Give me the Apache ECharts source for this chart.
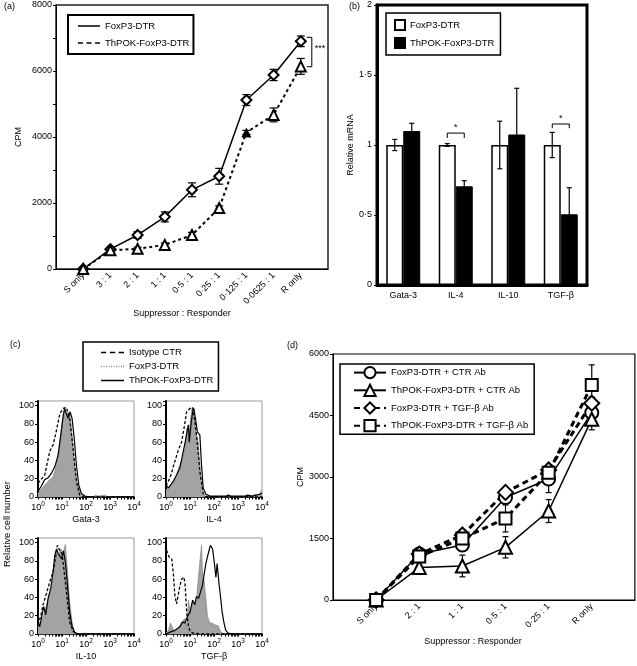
<!DOCTYPE html>
<html><head><meta charset="utf-8">
<script src="https://cdn.jsdelivr.net/npm/echarts@6/dist/echarts.min.js"></script>
<style>html,body{margin:0;padding:0;background:#fff}#c{width:637px;height:666px}</style>
</head><body><div id="c"></div>
<script>
// ---------------- panel (a) ----------------
const aCategories = ['S only','3 : 1','2 : 1','1 : 1','0·5 : 1','0·25 : 1','0·125 : 1','0·0625 : 1','R only'];
const aFoxP3    = [0, 600, 1030, 1580, 2400, 2810, 5120, 5880, 6900];
const aFoxP3Err = [60, 60, 100, 150, 210, 240, 165, 170, 160];
const aThPOK    = [0, 565, 610, 730, 1030, 1850, 4140, 4670, 6140];
const aThPOKErr = [40, 50, 50, 60, 80, 60, 60, 210, 240];
const aSigBracket = [8, 6130, 7020];
const aSigText = '***';
// ---------------- panel (b) ----------------
const bCategories = ['Gata-3','IL-4','IL-10','TGF-β'];
const bFoxP3    = [1, 1, 1, 1];
const bFoxP3Err = [0.04, 0.01, 0.17, 0.09];
const bThPOK    = [1.1, 0.705, 1.075, 0.505];
const bThPOKErr = [0.055, 0.04, 0.33, 0.19];
const bSigBrackets = [[1, 1.05, 1.085], [3, 1.12, 1.15]];
const bSigText = '*';
// ---------------- panel (c) histograms: [log10 intensity, % of max] ----------------
const gata3Isotype = [[0,15],[0.28,24],[0.49,50],[0.63,57],[0.77,73],[0.91,91],[1.05,97],[1.18,98],[1.32,86],[1.46,53],[1.6,17],[1.74,2],[1.88,0],[4,0]];
const gata3FoxP3 = [[0,4],[0.28,13],[0.49,19],[0.63,22],[0.77,35],[0.91,60],[1.0,79],[1.09,95],[1.18,91],[1.25,89],[1.32,93],[1.42,68],[1.53,35],[1.64,13],[1.81,3],[1.95,0],[2.3,0],[2.4,2],[2.5,1],[2.8,2],[2.9,0],[4,0]];
const gata3ThPOK = [[0,6],[0.14,12],[0.28,19],[0.42,21],[0.56,26],[0.7,33],[0.84,46],[0.95,68],[1.05,89],[1.11,97],[1.18,91],[1.25,86],[1.34,93],[1.42,86],[1.51,64],[1.6,35],[1.7,13],[1.81,4],[1.95,1],[2.2,0],[4,0]];
const il4Isotype = [[0,12],[0.17,21],[0.37,39],[0.51,51],[0.65,60],[0.75,75],[0.86,93],[1.0,97],[1.11,98],[1.2,84],[1.3,60],[1.41,28],[1.55,4],[1.69,0],[4,0]];
const il4FoxP3 = [[0,8],[0.17,12],[0.3,15],[0.44,24],[0.58,35],[0.69,42],[0.79,53],[0.86,75],[0.93,60],[1.0,79],[1.08,97],[1.16,88],[1.25,71],[1.34,60],[1.44,24],[1.52,6],[1.62,0],[3.5,0],[3.7,3],[3.85,2],[4,8]];
const il4ThPOK = [[0,13],[0.1,10],[0.19,13],[0.3,17],[0.44,24],[0.58,32],[0.72,50],[0.83,64],[0.93,79],[0.97,60],[1.04,79],[1.11,93],[1.16,97],[1.25,82],[1.31,71],[1.41,68],[1.48,35],[1.55,10],[1.66,3],[1.83,1],[2.5,1],[2.6,2],[2.7,1],[3.3,1],[3.4,2],[3.6,1],[3.9,3],[4,4]];
const il10Isotype = [[0,10],[0.11,19],[0.21,32],[0.35,44],[0.49,57],[0.63,68],[0.72,82],[0.81,97],[0.91,91],[1.0,88],[1.11,64],[1.23,35],[1.32,13],[1.46,3],[1.6,0],[4,0]];
const il10FoxP3 = [[0,8],[0.14,13],[0.28,24],[0.42,37],[0.56,50],[0.67,68],[0.77,89],[0.86,86],[0.95,93],[1.05,88],[1.14,98],[1.23,68],[1.32,35],[1.42,13],[1.51,3],[1.6,0],[2.0,1],[2.1,0],[4,0]];
const il10ThPOK = [[0,13],[0.07,8],[0.14,17],[0.24,30],[0.32,21],[0.42,39],[0.53,50],[0.63,68],[0.7,86],[0.77,93],[0.84,88],[0.91,89],[0.98,82],[1.06,91],[1.14,79],[1.23,53],[1.32,24],[1.42,8],[1.53,2],[1.67,0],[4,0]];
const tgfbIsotype = [[0,97],[0.06,88],[0.14,84],[0.24,82],[0.3,68],[0.37,42],[0.44,33],[0.51,35],[0.58,53],[0.65,60],[0.75,62],[0.8,53],[0.86,24],[0.93,10],[1.0,3],[1.13,1],[1.55,0],[4,0]];
const tgfbFoxP3 = [[0,1],[0.1,4],[0.19,12],[0.28,6],[0.37,3],[0.51,6],[0.65,13],[0.79,17],[0.86,8],[0.94,37],[1.02,21],[1.11,35],[1.2,32],[1.27,35],[1.34,60],[1.41,79],[1.48,97],[1.52,68],[1.58,60],[1.65,42],[1.73,19],[1.83,12],[1.92,12],[2.03,10],[2.17,9],[2.27,3],[2.38,0],[4,0]];
const tgfbThPOK = [[0,0],[0.17,2],[0.37,4],[0.58,8],[0.69,13],[0.79,12],[0.89,19],[1.0,24],[1.11,37],[1.2,32],[1.27,41],[1.36,39],[1.44,46],[1.52,53],[1.58,64],[1.66,77],[1.76,88],[1.85,97],[1.94,93],[2.01,79],[2.08,62],[2.13,77],[2.2,57],[2.27,41],[2.34,24],[2.41,13],[2.49,4],[2.59,1],[2.8,0],[4,0]];
const cPanels = [
  {name:'Gata-3', iso:gata3Isotype, fox:gata3FoxP3, th:gata3ThPOK},
  {name:'IL-4',   iso:il4Isotype,   fox:il4FoxP3,   th:il4ThPOK},
  {name:'IL-10',  iso:il10Isotype,  fox:il10FoxP3,  th:il10ThPOK},
  {name:'TGF-β',  iso:tgfbIsotype,  fox:tgfbFoxP3,  th:tgfbThPOK}
];
// ---------------- panel (d) ----------------
const dCategories = ['S only','2 : 1','1 : 1','0·5 : 1','0·25 : 1','R only'];
const dFoxCtr    = [0, 1120, 1340, 2500, 2950, 4570];
const dFoxCtrErr = [50, 60, 60, 100, 330, 150];
const dThCtr     = [0, 790, 830, 1285, 2170, 4410];
const dThCtrErr  = [50, 60, 265, 260, 280, 260];
const dFoxTgf    = [0, 1120, 1585, 2625, 3170, 4800];
const dFoxTgfErr = [50, 60, 60, 80, 100, 150];
const dThTgf     = [0, 1060, 1500, 1990, 3105, 5245];
const dThTgfErr  = [50, 60, 60, 330, 100, 490];

// ---------------- helpers ----------------
const FONT = 'Liberation Sans, Arial, sans-serif';
const txt = {color:'#000', fontSize:9, fontFamily:FONT};
const solidIcon = 'path://M0,0h22v2h-22z';
const dashIcon = 'path://M0,0h5v2h-5zM8.5,0h5v2h-5zM17,0h5v2h-5z';
const dotIcon = 'path://M0,0h1v1h-1zM2.5,0h1v1h-1zM5,0h1v1h-1zM7.5,0h1v1h-1zM10,0h1v1h-1zM12.5,0h1v1h-1zM15,0h1v1h-1zM17.5,0h1v1h-1zM20,0h1v1h-1zM22,0h1v1h-1z';
const stripName = n => n.split('|')[0];

function errSeries(xi, yi, ys, es, offset, cap, z){
  return {
    type:'custom', coordinateSystem:'cartesian2d', xAxisIndex:xi, yAxisIndex:yi, silent:true, z:z||3,
    data: ys.map((v,i)=>[i, v, es[i]]), encode:{x:0, y:1},
    renderItem:(p, api)=>{
      const x=api.value(0), y=api.value(1), e=api.value(2);
      const t=api.coord([x,y+e]), b=api.coord([x,y-e]);
      const cx=t[0]+offset, st={stroke:'#000', lineWidth:1.2};
      return {type:'group', children:[
        {type:'line', shape:{x1:cx,y1:t[1],x2:cx,y2:b[1]}, style:st},
        {type:'line', shape:{x1:cx-cap,y1:t[1],x2:cx+cap,y2:t[1]}, style:st},
        {type:'line', shape:{x1:cx-cap,y1:b[1],x2:cx+cap,y2:b[1]}, style:st}
      ]};
    }
  };
}
function catLabel(cats){ return v => { const r=Math.round(v); return (Math.abs(v-r)<1e-6 && r>=0 && r<cats.length) ? cats[r] : ''; }; }

const cLeft = [38,166,38,166], cTop = [401,401,538,538];
const cMinorTicks = [];
for (let d=0; d<4; d++) for (let k=1; k<10; k++) cMinorTicks.push(d+Math.log10(k));
cMinorTicks.push(4);

const grids = [
  {left:56, top:5, width:272, height:264, show:true, borderColor:'#222', borderWidth:1.5},
  {left:377, top:5, width:210, height:280, show:true, borderColor:'#000', borderWidth:3}
];
cLeft.forEach((l,i)=>grids.push({left:l, top:cTop[i], width:96, height:96, show:true, borderColor:'#999', borderWidth:1}));
grids.push({left:333, top:354, width:302, height:246, show:true, borderColor:'#000', borderWidth:1.2});

const xAxes = [
  {type:'value', gridIndex:0, min:-1, max:aCategories.length, interval:1, splitLine:{show:false},
   axisTick:{show:false}, axisLine:{onZero:false, lineStyle:{color:'#000', width:1}},
   axisLabel:Object.assign({rotate:45, margin:5, formatter:catLabel(aCategories)}, txt),
   name:'Suppressor : Responder', nameLocation:'middle', nameGap:40, nameTextStyle:Object.assign({padding:[0,20,0,0]}, txt)},
  {type:'category', gridIndex:1, data:bCategories, axisTick:{show:false},
   axisLine:{onZero:false, lineStyle:{color:'#000', width:3}}, axisLabel:Object.assign({margin:6}, txt)}
];
const yAxes = [
  {type:'value', gridIndex:0, min:0, max:8000, interval:1000, splitLine:{show:false},
   axisLine:{show:true, onZero:false, lineStyle:{color:'#000', width:1}}, axisTick:{show:true, length:3, lineStyle:{color:'#000'}},
   axisLabel:Object.assign({margin:4, formatter:v=> v%2000===0 ? String(v) : ''}, txt),
   name:'CPM', nameLocation:'middle', nameGap:33, nameTextStyle:txt},
  {type:'value', gridIndex:1, min:0, max:2, interval:0.5, splitLine:{show:false},
   axisLine:{show:true, onZero:false, lineStyle:{color:'#000', width:3}}, axisTick:{show:true, length:3, lineStyle:{color:'#000'}},
   axisLabel:Object.assign({margin:5, formatter:v=>String(v).replace('.','·')}, txt),
   name:'Relative mRNA', nameLocation:'middle', nameGap:20, nameTextStyle:txt}
];
cPanels.forEach((p,i)=>{
  xAxes.push({type:'value', gridIndex:2+i, min:0, max:4, interval:1, splitLine:{show:false},
    axisLine:{onZero:false, lineStyle:{color:'#000', width:1.5}},
    axisTick:{show:true, length:2.5, customValues:cMinorTicks, lineStyle:{color:'#000'}},
    axisLabel:{margin:4, formatter:v=>'{b|10}{s|'+v+'}',
      rich:{b:{fontSize:9, color:'#000', fontFamily:FONT, lineHeight:11, verticalAlign:'bottom'},
            s:{fontSize:6.5, color:'#000', fontFamily:FONT, lineHeight:11, verticalAlign:'top'}}},
    name:p.name, nameLocation:'middle', nameGap:18, nameTextStyle:txt});
  yAxes.push({type:'value', gridIndex:2+i, min:0, max:105, interval:20, splitLine:{show:false},
    axisLine:{show:true, onZero:false, lineStyle:{color:'#000', width:2}},
    axisTick:{show:true, length:3, lineStyle:{color:'#000'}},
    axisLabel:Object.assign({margin:4, formatter:v=> v%20===0 ? String(v) : ''}, txt)});
});
xAxes.push({type:'value', gridIndex:6, min:-1, max:dCategories.length, interval:1, splitLine:{show:false},
  axisTick:{show:false}, axisLine:{onZero:false, lineStyle:{color:'#000', width:1}},
  axisLabel:Object.assign({rotate:45, margin:5, formatter:catLabel(dCategories)}, txt),
  name:'Suppressor : Responder', nameLocation:'middle', nameGap:37, nameTextStyle:Object.assign({padding:[0,22,0,0]}, txt)});
yAxes.push({type:'value', gridIndex:6, min:0, max:6000, interval:1500, splitLine:{show:false},
  axisLine:{show:true, onZero:false, lineStyle:{color:'#000', width:1}}, axisTick:{show:true, length:3, lineStyle:{color:'#000'}},
  axisLabel:Object.assign({margin:4, formatter:v=>String(v)}, txt),
  name:'CPM', nameLocation:'middle', nameGap:25, nameTextStyle:txt});

const series = [];
// (a)
series.push(errSeries(0,0,aFoxP3,aFoxP3Err,0,4,2));
series.push(errSeries(0,0,aThPOK,aThPOKErr,0,4,2));
series.push({type:'line', name:'FoxP3-DTR|a', xAxisIndex:0, yAxisIndex:0, z:4,
  data:aFoxP3.map((v,i)=>[i,v]), symbol:'emptyDiamond', symbolSize:10, color:'#000',
  itemStyle:{borderWidth:1.5}, lineStyle:{color:'#000', width:1.5}});
series.push({type:'line', name:'ThPOK-FoxP3-DTR|a', xAxisIndex:0, yAxisIndex:0, z:4,
  data:aThPOK.map((v,i)=> i===6 ? {value:[i,v], symbol:'triangle'} : [i,v]), symbol:'emptyTriangle', symbolSize:10, color:'#000',
  itemStyle:{borderWidth:1.5}, lineStyle:{color:'#000', width:2, type:[3,3]}});
series.push({type:'custom', coordinateSystem:'cartesian2d', xAxisIndex:0, yAxisIndex:0, silent:true, z:5,
  data:[aSigBracket], encode:{x:0, y:1},
  renderItem:(p, api)=>{
    const lo=api.coord([api.value(0), api.value(1)]), hi=api.coord([api.value(0), api.value(2)]);
    const x=lo[0]+11;
    return {type:'group', children:[
      {type:'polyline', shape:{points:[[x-5,hi[1]],[x,hi[1]],[x,lo[1]],[x-5,lo[1]]]}, style:{stroke:'#000', fill:null, lineWidth:1}},
      {type:'text', style:{text:aSigText, x:x+3, y:(lo[1]+hi[1])/2-4, verticalAlign:'middle', fontSize:9, fill:'#000', fontFamily:FONT}}
    ]};
  }});
// (b)
series.push({type:'bar', name:'FoxP3-DTR|b', xAxisIndex:1, yAxisIndex:1, data:bFoxP3, barWidth:17, barGap:'0%',
  itemStyle:{color:'#fff', borderColor:'#000', borderWidth:1.5}});
series.push({type:'bar', name:'ThPOK-FoxP3-DTR|b', xAxisIndex:1, yAxisIndex:1, data:bThPOK, barWidth:17, barGap:'0%',
  itemStyle:{color:'#000', borderColor:'#000', borderWidth:1}});
series.push(errSeries(1,1,bFoxP3,bFoxP3Err,-8.5,2.5,3));
series.push(errSeries(1,1,bThPOK,bThPOKErr,8.5,2.5,3));
series.push({type:'custom', coordinateSystem:'cartesian2d', xAxisIndex:1, yAxisIndex:1, silent:true, z:5,
  data:bSigBrackets, encode:{x:0, y:1},
  renderItem:(p, api)=>{
    const c=api.value(0), lo=api.coord([c, api.value(1)]), hi=api.coord([c, api.value(2)]);
    const x1=hi[0]-8.5, x2=hi[0]+8.5;
    return {type:'group', children:[
      {type:'polyline', shape:{points:[[x1,lo[1]],[x1,hi[1]],[x2,hi[1]],[x2,lo[1]]]}, style:{stroke:'#000', fill:null, lineWidth:1}},
      {type:'text', style:{text:bSigText, x:hi[0], y:hi[1]-1, align:'center', verticalAlign:'bottom', fontSize:9, fill:'#000', fontFamily:FONT}}
    ]};
  }});
// (c)
cPanels.forEach((p,i)=>{
  const g = 2+i;
  series.push({type:'line', name:'FoxP3-DTR|c', xAxisIndex:g, yAxisIndex:g, data:p.fox, showSymbol:false, symbol:'none',
    color:'#8f8f8f', lineStyle:{color:'#7a7a7a', width:0.6}, areaStyle:{color:'#a3a3a3', opacity:1}, z:2});
  series.push({type:'line', name:'Isotype CTR|c', xAxisIndex:g, yAxisIndex:g, data:p.iso, showSymbol:false, symbol:'none',
    color:'#000', lineStyle:{color:'#000', width:1.3, type:[3,2]}, z:3});
  series.push({type:'line', name:'ThPOK-FoxP3-DTR|c', xAxisIndex:g, yAxisIndex:g, data:p.th, showSymbol:false, symbol:'none',
    color:'#000', lineStyle:{color:'#000', width:1.2}, z:4});
});
// (d)
series.push(errSeries(6,6,dFoxCtr,dFoxCtrErr,0,3,2));
series.push(errSeries(6,6,dThCtr,dThCtrErr,0,3,2));
series.push(errSeries(6,6,dFoxTgf,dFoxTgfErr,0,3,2));
series.push(errSeries(6,6,dThTgf,dThTgfErr,0,3,2));
const dLine = (name, data, sym, size, dashed) => ({type:'line', name:name, xAxisIndex:6, yAxisIndex:6, z:4,
  data:data.map((v,i)=>[i,v]), symbol:sym, symbolSize:size, color:'#000', itemStyle:{borderWidth:1.3},
  lineStyle:{color:'#000', width:dashed?3:1.5, type:dashed?[6,4]:'solid'}});
series.push(dLine('FoxP3-DTR + CTR Ab|d', dFoxCtr, 'emptyCircle', 13, false));
series.push(dLine('ThPOK-FoxP3-DTR + CTR Ab|d', dThCtr, 'emptyTriangle', 13, false));
series.push(dLine('FoxP3-DTR + TGF-β Ab|d', dFoxTgf, 'emptyDiamond', 15, true));
series.push(dLine('ThPOK-FoxP3-DTR + TGF-β Ab|d', dThTgf, 'emptyRect', 12, true));

const legBase = {orient:'vertical', formatter:stripName, backgroundColor:'#fff', borderColor:'#000', borderWidth:1.5,
  textStyle:{color:'#000', fontSize:9.5, fontFamily:FONT}, symbolKeepAspect:false, itemGap:6, selectedMode:false};
const legends = [
  Object.assign({}, legBase, {left:68, top:15, padding:[6,4,6,10], itemWidth:22, itemHeight:1.5, itemGap:7, borderWidth:2,
    data:[{name:'FoxP3-DTR|a', icon:solidIcon}, {name:'ThPOK-FoxP3-DTR|a', icon:dashIcon}]}),
  Object.assign({}, legBase, {left:386, top:13, padding:[6,6,6,8], itemWidth:10, itemHeight:10, itemGap:6,
    data:[{name:'FoxP3-DTR|b', icon:'rect'}, {name:'ThPOK-FoxP3-DTR|b', icon:'rect'}]}),
  Object.assign({}, legBase, {left:83, top:342, padding:[5,5,5,18], itemWidth:23, itemHeight:1.5, itemGap:3,
    textStyle:{color:'#000', fontSize:9.5, fontFamily:FONT, lineHeight:11},
    data:[{name:'Isotype CTR|c', icon:dashIcon}, {name:'FoxP3-DTR|c', icon:dotIcon}, {name:'ThPOK-FoxP3-DTR|c', icon:solidIcon}]}),
  Object.assign({}, legBase, {left:340, top:364, padding:[2,6,2,13], itemWidth:32, itemHeight:14, itemGap:4.5,
    data:['FoxP3-DTR + CTR Ab|d','ThPOK-FoxP3-DTR + CTR Ab|d','FoxP3-DTR + TGF-β Ab|d','ThPOK-FoxP3-DTR + TGF-β Ab|d']})
];

const gText = (t, x, y, extra) => Object.assign({type:'text', left:x, top:y, style:{text:t, fill:'#000', fontSize:9, fontFamily:FONT}}, extra||{});
const graphics = [
  gText('(a)', 4, 2), gText('(b)', 349, 2), gText('(c)', 10, 340), gText('(d)', 287, 341),
  {type:'text', x:7, y:524, rotation:Math.PI/2, style:{text:'Relative cell number', fill:'#000', fontSize:9.5, fontFamily:FONT, align:'center', verticalAlign:'middle'}}
];

const chart = echarts.init(document.getElementById('c'), null, {renderer:'canvas'});
chart.setOption({
  animation:false, backgroundColor:'#fff', textStyle:{fontFamily:FONT},
  grid:grids, xAxis:xAxes, yAxis:yAxes, series:series, legend:legends, graphic:graphics
});
</script></body></html>
